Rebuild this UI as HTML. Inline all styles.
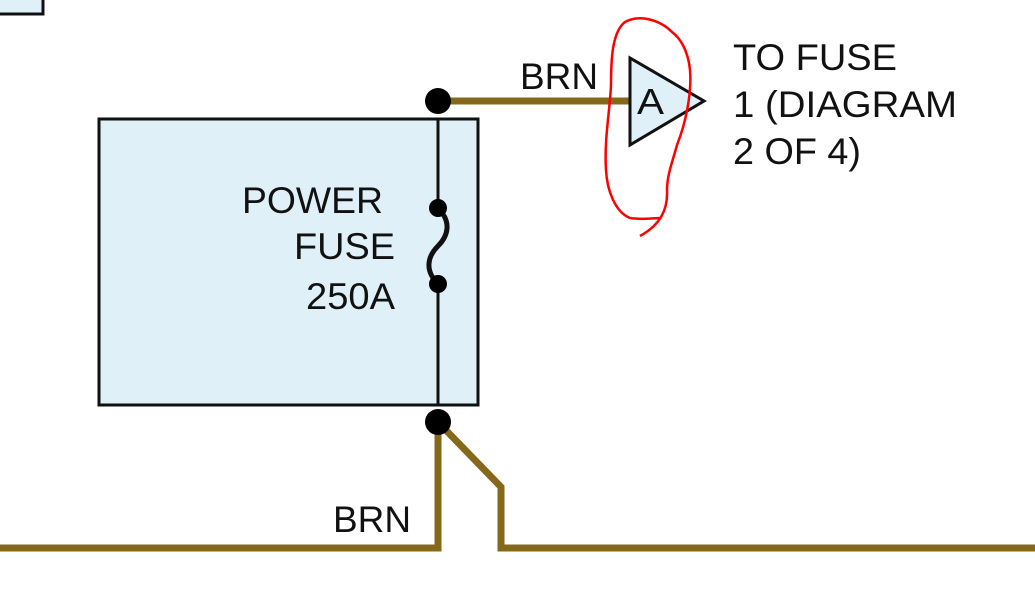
<!DOCTYPE html>
<html><head><meta charset="utf-8"><style>
html,body{margin:0;padding:0;background:#fff;width:1035px;height:591px;overflow:hidden}
svg{display:block}
text{font-family:"Liberation Sans",Arial,sans-serif;fill:#111}
</style></head><body>
<svg width="1035" height="591" viewBox="0 0 1035 591" xmlns="http://www.w3.org/2000/svg">
<rect x="-5" y="-5" width="48" height="19" fill="#dff0f8" stroke="#111" stroke-width="3"/>
<rect x="99" y="119" width="379" height="286" fill="#e0f0f8" stroke="#111" stroke-width="3"/>
<line x1="438" y1="120" x2="438" y2="208" stroke="#111" stroke-width="3"/>
<line x1="438" y1="284" x2="438" y2="405" stroke="#111" stroke-width="3"/>
<path d="M438 208 C452 222 448 236 438 246 C428 256 424 270 438 284" fill="none" stroke="#111" stroke-width="5"/>
<circle cx="438" cy="208" r="9" fill="#000"/>
<circle cx="438" cy="284" r="9" fill="#000"/>
<g stroke="#86681a" stroke-width="7" fill="none">
<line x1="438" y1="101" x2="630" y2="101"/>
<polyline points="0,548 438,548 438,422"/>
<polyline points="438,422 501,487 501,548 1035,548"/>
</g>
<circle cx="438" cy="101" r="13" fill="#000"/>
<circle cx="438" cy="422" r="13" fill="#000"/>
<polygon points="630,58 630,145 704,101" fill="#e0f0f8" stroke="#111" stroke-width="3"/>
<text x="637" y="114" font-size="36" textLength="27" lengthAdjust="spacingAndGlyphs">A</text>
<text x="520" y="89" font-size="37" textLength="78" lengthAdjust="spacingAndGlyphs">BRN</text>
<text x="333" y="532" font-size="37" textLength="78" lengthAdjust="spacingAndGlyphs">BRN</text>
<text x="242" y="213" font-size="37" textLength="141" lengthAdjust="spacingAndGlyphs">POWER</text>
<text x="294" y="259" font-size="37" textLength="101" lengthAdjust="spacingAndGlyphs">FUSE</text>
<text x="306" y="309" font-size="37" textLength="89" lengthAdjust="spacingAndGlyphs">250A</text>
<text x="733" y="70" font-size="37" textLength="164" lengthAdjust="spacingAndGlyphs">TO FUSE</text>
<text x="733" y="117" font-size="37" textLength="224" lengthAdjust="spacingAndGlyphs">1 (DIAGRAM</text>
<text x="733" y="164" font-size="37" textLength="128" lengthAdjust="spacingAndGlyphs">2 OF 4)</text>
<path d="M640 236 C660 225 668 210 667 190 C667 175 673 160 677 145 C685 125 692 95 690 70 C688 50 680 38 672 32 C660 20 640 14 625 22 C612 32 611 60 611 85 C610 110 604 140 606 170 C607 190 615 212 630 218 C645 220 655 218 660 218" fill="none" stroke="#f00" stroke-width="2.5"/>
</svg>
</body></html>
